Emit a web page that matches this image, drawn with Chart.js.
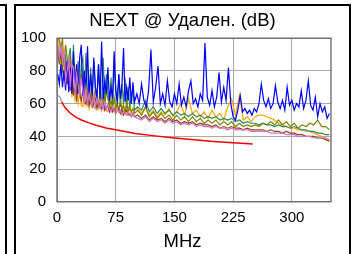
<!DOCTYPE html>
<html>
<head>
<meta charset="utf-8">
<script src="https://cdn.jsdelivr.net/npm/chart.js"></script>
<style>
  html, body { margin: 0; padding: 0; background: #fff; }
  body { width: 353px; height: 254px; position: relative; overflow: hidden; }
  .prev { position: absolute; left: -30px; top: 4px; width: 33px; height: 300px; border: 2px solid #000; }
  .panel { position: absolute; left: 14px; top: 4px; width: 333px; height: 300px; border: 2px solid #000; }
  #wrap { position: absolute; left: 0; top: 0; width: 353px; height: 254px; }
</style>
</head>
<body>
<div class="prev"></div>
<div class="panel"></div>
<div id="wrap"><canvas id="chart"></canvas></div>
<script>
// low band, every 2 MHz (shared by all pairs)
const freqsLow = [1,3,5,7,9,11,13,15,17,19,21,23,25,27,29,31,33,35,37,39,
  41,43,45,47,49,51,53,55,57,59,61,63,65,67,69,71,73,75,77,79,
  81,83,85,87,89,91,93,95,97,99];
// upper band, every 5 MHz
const freqsHigh = [103,108,113,118,123,128,133,138,143,148,153,158,163,168,173,178,183,188,193,198,
  203,208,213,218,223,228,233,238,243,248,253,258,263,268,273,278,283,288,293,298,
  303,308,313,318,323,328,333,338,343,348];
// upper band of the blue pair, every 3 MHz
const freqsBlueHigh = [102,105,108,111,114,117,120,123,126,129,132,135,138,141,144,147,150,153,156,159,
  162,165,168,171,174,177,180,183,186,189,192,195,198,201,204,207,210,213,216,219,
  222,225,228,231,234,237,240,243,246,249,252,255,258,261,264,267,270,273,276,279,
  282,285,288,291,294,297,300,303,306,309,312,315,318,321,324,327,330,333,336,339,
  342,345,348];

const blueLow = [78,72,84,70,80,68,86,67,82,66,92,67,84,66,88,96,65,80,66,95,
  64,78,65,88,70,64,84,63,98,63,74,66,82,62,70,63,92,68,62,78,
  63,72,94,61,70,62,76,60,73,61];
const blueHigh = [66,60,72,62,58,68,93,61,70,83,60,66,59,74,61,58,66,60,72,59,
  64,58,68,74,60,63,58,66,62,97,64,59,68,58,64,79,61,70,62,82,
  60,52,50,56,65,55,57,54,56,53,57,55,60,72,62,58,63,57,60,71,
  61,57,62,56,70,59,62,56,60,58,68,57,62,74,59,56,64,52,60,55,
  58,51,54];

const orangeLow = [100,96,82,92,86,74,80,68,76,64,72,62,66,60,68,59,58,70,59,63,
  57,66,60,58,57,64,57,60,56,63,59,56,55,61,56,58,55,60,57,55,
  54,59,55,57,54,58,56,54,53,57];
const orangeHigh = [57,54,58,53,56,52,55,53,57,52,55,60,53,63,54,56,52,55,51,56,
  52,54,50,58,63,53,65,50,52,49,52,53,53,52,51,50,48,47,46,45,
  45,44,44,43,43,42,41,40,39,37];

const greenLow = [92,84,96,80,76,90,72,88,94,68,96,70,66,86,65,84,88,63,91,66,
  63,82,62,86,70,61,84,62,61,88,60,78,66,59,76,59,84,70,58,78,
  58,72,60,76,57,70,57,66,68,56];
const greenHigh = [58,56,62,55,58,54,57,54,56,53,55,53,54,52,54,52,53,51,52,51,
  52,50,51,50,51,49,50,48,49,48,48,47,48,47,47,46,47,46,46,45,
  46,45,44,44,43,43,42,42,41,41];

const oliveLow = [100,99,94,100,82,96,88,76,90,72,86,80,66,82,64,78,70,63,76,62,
  74,61,66,60,70,62,59,68,60,64,58,68,63,58,62,57,64,57,60,56,
  62,56,59,55,61,55,58,55,57,54];
const oliveHigh = [56,53,58,52,55,51,54,51,53,50,53,50,52,49,52,49,51,48,50,48,
  50,47,49,47,49,46,48,46,47,46,47,46,48,47,49,47,50,47,49,46,
  48,45,47,46,48,47,50,46,46,44];

const brownLow = [95,86,90,82,78,84,72,80,68,76,65,74,63,70,66,62,68,61,60,65,
  59,64,58,60,63,57,61,59,57,60,56,58,59,55,58,55,57,54,56,57,
  54,56,53,55,56,53,54,52,54,52];
const brownHigh = [53,51,53,50,52,50,51,49,51,49,50,48,49,48,49,47,48,47,47,46,
  47,45,46,45,46,45,45,44,45,44,44,44,44,43,44,43,43,42,43,42,
  42,41,41,40,40,40,39,39,38,37];

const pinkLow = [97,88,95,86,92,74,80,88,70,84,82,66,78,72,64,76,68,61,70,60,
  66,62,59,65,58,63,60,57,62,57,61,56,59,57,55,58,56,54,57,55,
  56,53,55,54,53,55,53,52,54,52];
const pinkHigh = [51,50,52,49,51,49,50,48,50,48,49,47,48,47,48,46,47,46,46,45,
  46,45,45,44,45,44,44,44,44,43,43,43,43,43,42,42,42,42,41,41,
  41,40,40,40,40,39,39,39,39,38];

// limit line (grey below 6 MHz, red above)
const limitLowFreqs = [1, 4, 6];
const limitLowVals = [65, 64.1, 61];
const limitFreqs = [6, 8, 10, 16, 20, 25, 31.25, 40, 50, 62.5, 75, 100, 125, 150, 175, 200, 225, 250];
const limitVals = [61, 59.4, 57.8, 54.6, 53.1, 51.5, 50.0, 48.4, 46.8, 45.1, 44.0, 41.8, 40.3, 39.0, 37.9, 36.9, 36.1, 35.3];

const xTicks = [0, 75, 150, 225, 300];
const yTicks = [0, 20, 40, 60, 80, 100];

function pts(xs, ys) {
  return xs.map((x, i) => ({ x: x, y: ys[i] }));
}

function line(label, xs, ys, color, width) {
  return {
    label: label,
    data: pts(xs, ys),
    borderColor: color,
    borderWidth: width,
    pointRadius: 0,
    fill: false,
    tension: 0
  };
}

// solid frame round the plot area
const frame = {
  id: 'frame',
  afterDatasetsDraw(chart) {
    const a = chart.chartArea, c = chart.ctx;
    c.save();
    c.strokeStyle = '#666';
    c.lineWidth = 1.3;
    c.strokeRect(a.left, a.top, a.right - a.left, a.bottom - a.top);
    c.restore();
  }
};

const font = 'Liberation Sans, Arial';

new Chart(document.getElementById('chart'), {
  type: 'line',
  data: {
    datasets: [
      line('Limit', limitFreqs, limitVals, '#ff0000', 1.5),
      line('Limit low', limitLowFreqs, limitLowVals, '#a9a9a9', 1.5),
      line('Pair 6', freqsLow.concat(freqsHigh), pinkLow.concat(pinkHigh), '#da70d6', 1.2),
      line('Pair 1', freqsLow.concat(freqsBlueHigh), blueLow.concat(blueHigh), '#0000ff', 1.2),
      line('Pair 5', freqsLow.concat(freqsHigh), brownLow.concat(brownHigh), '#8b4513', 1.2),
      line('Pair 4', freqsLow.concat(freqsHigh), oliveLow.concat(oliveHigh), '#808000', 1.2),
      line('Pair 3', freqsLow.concat(freqsHigh), greenLow.concat(greenHigh), '#2e8b57', 1.2),
      line('Pair 2', freqsLow.concat(freqsHigh), orangeLow.concat(orangeHigh), '#ffa500', 1.2)
    ]
  },
  options: {
    responsive: true,
    maintainAspectRatio: false,
    animation: false,
    layout: { padding: { left: 16, right: 4, top: 0, bottom: 0 } },
    plugins: {
      legend: { display: false },
      tooltip: { enabled: false },
      title: {
        display: true,
        text: 'NEXT @ Удален. (dB)',
        color: '#000',
        font: { family: font, size: 18.5, weight: 'normal' },
        padding: { top: 10, bottom: 6 }
      },
      subtitle: {
        display: true,
        position: 'bottom',
        text: 'MHz',
        color: '#000',
        font: { family: font, size: 18.5, weight: 'normal' },
        padding: { top: 0, bottom: 1 }
      }
    },
    scales: {
      x: {
        type: 'linear',
        min: 0,
        max: 350,
        afterFit: s => { s.height = 29; },
        afterBuildTicks: s => { s.ticks = xTicks.map(v => ({ value: v })); },
        grid: { color: '#aaa', borderDash: [1, 1], drawTicks: false },
        border: { display: false },
        ticks: { color: '#000', padding: 7, font: { family: font, size: 15 } }
      },
      y: {
        min: 0,
        max: 100,
        afterFit: s => { s.width = 41; },
        afterBuildTicks: s => { s.ticks = yTicks.map(v => ({ value: v })); },
        grid: { color: '#aaa', borderDash: [1, 1], drawTicks: false },
        border: { display: false },
        ticks: { color: '#000', padding: 11, font: { family: font, size: 15 } }
      },
      yRight: {
        position: 'right',
        min: 0,
        max: 100,
        afterFit: s => { s.width = 18; },
        grid: { display: false },
        border: { display: false },
        ticks: { display: false }
      }
    }
  },
  plugins: [frame]
});
</script>
</body>
</html>
